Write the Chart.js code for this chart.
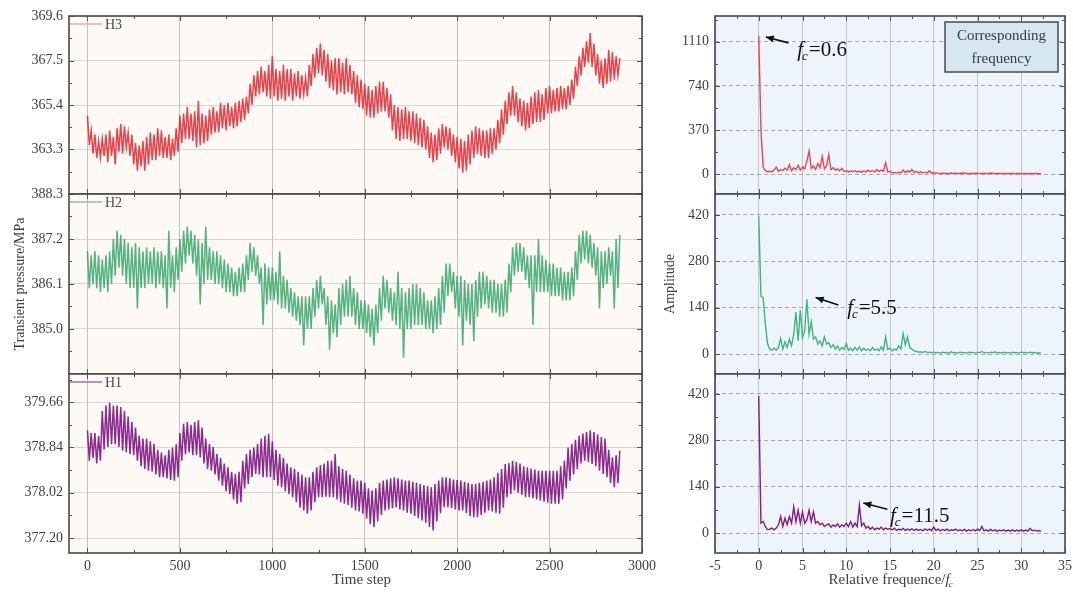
<!DOCTYPE html>
<html>
<head>
<meta charset="utf-8">
<script src="https://cdn.jsdelivr.net/npm/chart.js@4.4.1/dist/chart.umd.min.js"></script>
<style>
  html, body { margin: 0; padding: 0; background: #ffffff; }
  #wrap { position: relative; width: 1073px; height: 594px; overflow: hidden; }
  canvas { position: absolute; }
</style>
</head>
<body>
<div id="wrap">
  <canvas id="L1" width="660" height="200" style="left:0;top:0"></canvas>
  <canvas id="L2" width="660" height="196" style="left:0;top:184px"></canvas>
  <canvas id="L3" width="660" height="230" style="left:0;top:364px"></canvas>
  <canvas id="R1" width="423" height="200" style="left:650px;top:0"></canvas>
  <canvas id="R2" width="423" height="196" style="left:650px;top:184px"></canvas>
  <canvas id="R3" width="423" height="230" style="left:650px;top:364px"></canvas>
</div>
<script>
const SERIF = '"Liberation Serif", "Times New Roman", serif';
const INK = '#3f3f3f';

// ---- time histories (every 10 time steps) ----
const timeStep = Array.from({ length: 289 }, (_, i) => i * 10);

const pressureH3 = [
  364.9,363.5,364.2,363.1,364.0,362.9,363.7,362.9,363.8,363.0,364.0,362.7,364.2,363.0,363.9,362.6,364.3,363.2,364.5,363.1,
  364.4,363.4,364.1,363.0,364.0,362.6,363.6,362.3,363.5,362.5,363.7,362.3,363.9,362.6,364.1,362.8,364.0,362.8,364.3,363.0,
  364.2,362.9,363.9,362.9,364.0,362.8,363.8,363.0,364.3,363.2,364.9,363.6,365.0,363.8,365.3,363.8,365.0,363.7,365.1,363.4,
  365.6,363.5,365.0,363.6,364.9,363.7,365.2,364.0,365.3,364.1,365.1,364.1,365.5,364.3,365.4,364.2,365.5,364.4,365.3,364.3,
  365.5,364.4,365.6,364.6,365.7,364.7,365.8,365.0,366.4,365.4,366.8,365.8,367.0,365.9,367.2,366.0,367.0,365.8,367.3,365.7,
  367.7,365.8,367.1,365.6,367.0,365.7,367.3,365.6,367.1,365.8,367.1,365.6,366.9,365.8,367.0,365.7,366.8,365.9,366.7,365.8,
  367.3,366.3,367.8,366.7,368.1,366.9,368.3,366.8,368.0,366.5,367.8,366.2,367.5,366.1,367.6,365.9,367.6,366.0,367.4,365.9,
  367.6,366.0,367.3,365.9,367.0,365.5,366.8,365.3,366.6,365.2,366.4,364.9,366.3,364.8,366.1,364.8,366.3,365.0,366.5,365.1,
  366.5,365.1,366.2,364.8,365.9,364.2,365.4,363.8,365.3,363.7,365.2,363.8,365.3,363.8,365.1,363.7,365.1,363.6,365.0,363.5,
  364.8,363.4,364.7,363.3,364.4,362.9,364.1,362.7,364.0,362.8,364.3,363.1,364.5,363.4,364.4,363.3,364.3,363.0,364.0,362.7,
  363.9,362.4,363.8,362.2,363.7,362.3,364.0,362.6,364.2,362.9,364.4,363.1,364.3,363.0,364.2,362.9,364.2,362.9,364.3,363.1,
  364.3,363.3,364.7,363.6,365.2,364.0,365.6,364.5,366.0,364.9,366.3,364.9,366.0,364.6,365.7,364.4,365.6,364.2,365.5,364.3,
  365.8,364.5,366.0,364.6,366.1,364.6,365.9,364.7,366.2,365.0,366.3,365.0,366.1,365.1,366.2,365.1,366.3,365.2,366.2,365.2,
  366.3,365.4,366.6,365.7,367.2,366.3,367.7,366.8,368.1,367.2,368.4,367.4,368.8,367.2,368.3,366.8,367.8,366.4,367.5,366.2,
  367.6,366.4,368.0,366.5,367.9,366.6,367.7,366.8,367.6
];

const pressureH2 = [
  386.9,386.0,386.8,386.1,386.9,386.0,386.8,385.9,386.7,386.0,386.8,385.9,386.9,386.1,387.2,386.3,387.4,386.5,387.3,386.3,
  387.2,386.1,387.1,386.0,387.0,386.0,387.1,385.5,387.0,386.0,386.9,386.0,387.0,386.1,386.9,386.1,387.0,386.0,386.9,386.1,
  386.9,386.0,386.8,385.5,387.4,386.0,386.8,385.9,387.0,386.2,387.2,386.4,387.4,386.6,387.5,386.8,387.4,386.6,387.3,386.3,
  387.2,385.6,387.1,386.1,387.5,386.2,387.0,386.2,386.9,386.1,386.9,386.1,386.8,386.0,386.7,385.9,386.6,385.9,386.5,385.8,
  386.4,385.8,386.5,385.9,386.6,385.9,386.8,386.2,387.1,386.4,387.0,386.3,386.8,386.1,386.5,385.1,386.6,385.6,386.5,385.7,
  386.5,385.7,386.4,385.6,386.9,385.5,386.3,385.5,386.2,385.4,386.0,385.3,385.9,385.2,385.8,385.1,385.8,384.6,385.8,385.0,
  385.8,385.0,386.0,385.3,386.2,385.5,386.3,385.6,386.0,385.1,385.8,384.5,385.7,384.9,385.6,384.8,386.0,385.1,386.1,385.3,
  386.2,385.3,386.3,385.3,386.0,385.1,385.9,385.0,385.7,385.0,385.7,384.9,385.6,384.8,385.5,384.6,385.6,384.9,386.0,385.2,
  386.3,385.5,386.2,385.4,386.0,385.2,385.9,385.1,386.4,385.0,386.0,384.3,385.9,385.0,386.0,385.0,386.1,385.1,386.1,385.1,
  386.0,385.1,385.9,385.0,385.7,385.0,385.7,384.9,385.8,385.0,386.0,385.1,386.3,385.4,386.6,385.8,386.6,385.9,386.4,385.5,
  386.3,385.3,386.3,384.6,386.2,385.2,386.1,385.1,386.1,384.7,386.2,385.3,386.4,385.5,386.4,385.6,386.3,385.5,386.2,385.4,
  386.2,385.4,386.1,385.3,386.1,385.3,386.2,385.4,386.6,385.9,387.0,386.3,387.1,386.4,387.1,386.4,387.0,386.2,386.8,386.0,
  386.8,385.1,386.8,385.9,387.2,385.9,386.8,385.9,386.7,385.9,386.6,385.8,386.6,385.8,386.5,385.8,386.5,385.7,386.4,385.7,
  386.4,385.7,386.5,385.8,386.9,386.2,387.3,386.6,387.4,386.7,387.4,386.6,387.3,386.5,387.1,386.3,387.0,385.5,386.9,386.0,
  386.9,386.1,387.0,386.3,386.9,385.5,387.2,386.0,387.3
];

const pressureH1 = [
  379.15,378.6,379.1,378.65,379.1,378.55,379.05,378.6,379.5,378.8,379.6,378.85,379.65,378.9,379.6,378.9,379.6,378.85,379.57,378.78,
  379.5,378.75,379.4,378.72,379.3,378.7,379.2,378.6,379.05,378.5,379.0,378.45,379.0,378.42,378.95,378.4,378.9,378.35,378.8,378.3,
  378.75,378.3,378.7,378.28,378.8,378.25,378.84,378.24,378.9,378.3,379.1,378.6,379.27,378.72,379.3,378.75,379.25,378.7,379.3,378.7,
  379.33,378.66,379.2,378.55,379.0,378.45,378.9,378.42,378.85,378.35,378.72,378.24,378.65,378.15,378.55,378.05,378.48,378.0,378.4,377.9,
  378.36,377.82,378.4,377.85,378.6,378.1,378.72,378.18,378.8,378.3,378.84,378.36,378.9,378.35,379.0,378.3,379.05,378.3,379.09,378.3,
  378.95,378.25,378.8,378.15,378.72,378.12,378.65,378.05,378.55,378.0,378.48,377.94,378.45,377.85,378.4,377.75,378.35,377.7,378.3,377.64,
  378.3,377.7,378.4,377.85,378.48,377.94,378.52,377.94,378.55,377.95,378.6,377.94,378.6,377.94,378.72,377.9,378.5,377.85,378.45,377.82,
  378.42,377.8,378.35,377.75,378.28,377.7,378.24,377.68,378.24,377.64,378.2,377.55,378.1,377.45,378.06,377.4,378.1,377.5,378.2,377.62,
  378.24,377.7,378.26,377.72,378.28,377.74,378.3,377.76,378.28,377.72,378.26,377.7,378.24,377.66,378.24,377.64,378.22,377.6,378.2,377.56,
  378.18,377.52,378.16,377.48,378.14,377.4,378.12,377.34,378.18,377.5,378.24,377.65,378.3,377.76,378.3,377.76,378.28,377.74,378.26,377.72,
  378.25,377.7,378.24,377.7,378.22,377.65,378.2,377.6,378.18,377.58,378.18,377.58,378.2,377.62,378.22,377.66,378.24,377.7,378.26,377.68,
  378.3,377.66,378.38,377.64,378.45,377.75,378.54,377.94,378.56,378.0,378.6,378.06,378.58,378.02,378.55,377.98,378.5,377.94,378.48,377.94,
  378.46,377.92,378.44,377.9,378.42,377.88,378.42,377.86,378.42,377.84,378.42,377.82,378.42,377.82,378.42,377.82,378.5,377.9,378.6,378.1,
  378.84,378.24,378.9,378.35,378.98,378.45,379.05,378.55,379.09,378.6,379.12,378.58,379.15,378.54,379.12,378.5,379.08,378.42,379.03,378.36,
  379.0,378.3,378.8,378.2,378.66,378.12,378.7,378.2,378.78
];

// ---- amplitude spectra (relative frequency step 0.25) ----
const relFreq = Array.from({ length: 130 }, (_, i) => i * 0.25);

const ampH3 = [
  1160,380,60,30,22,25,20,35,60,25,40,30,50,35,80,30,55,40,75,35,
  60,45,110,195,50,70,40,90,55,150,45,70,165,40,55,35,45,30,50,25,
  30,20,28,22,30,20,25,18,28,20,35,22,30,20,40,22,35,25,95,20,
  25,12,15,10,18,12,35,15,30,18,40,15,25,12,20,10,18,12,30,10,
  15,8,12,6,10,7,9,6,11,8,10,6,9,7,12,6,8,5,9,7,
  10,6,8,5,9,6,11,7,8,5,9,6,8,5,7,6,9,5,8,5,
  7,6,8,5,7,4,8,5,6,4
];

const ampH2 = [
  417,175,170,92,32,15,12,18,12,20,47,15,37,20,45,25,60,127,40,132,
  50,70,165,60,97,45,52,30,40,25,52,30,35,20,28,15,25,12,20,14,
  32,12,18,10,20,12,22,10,18,12,15,10,20,12,15,10,22,12,52,14,
  18,10,15,12,25,15,62,28,52,20,15,10,8,6,7,5,8,5,6,4,
  6,4,5,3,6,4,5,3,7,4,5,3,6,4,5,3,6,4,5,3,
  6,4,8,4,5,3,6,4,7,4,5,3,6,4,5,3,6,4,5,3,
  6,4,5,3,6,4,5,3,4,3
];

const ampH1 = [
  414,30,35,20,10,12,15,10,15,25,50,20,45,25,50,30,79,35,69,30,
  64,30,40,69,35,64,30,35,25,30,20,25,28,18,25,20,28,18,25,20,
  30,20,35,18,30,20,84,22,30,15,20,12,18,10,15,12,18,10,15,12,
  14,10,15,8,12,9,14,8,12,9,13,8,12,8,11,7,13,8,12,8,
  18,8,12,7,11,8,12,7,10,8,12,7,10,7,11,6,10,7,11,7,
  12,8,20,7,10,6,11,7,10,6,9,7,10,6,9,6,10,6,9,6,
  10,6,9,6,14,7,9,6,8,6
];

// ---- tick labels ----
const timeTicks = [0, 500, 1000, 1500, 2000, 2500, 3000];
const freqTicks = [-5, 0, 5, 10, 15, 20, 25, 30, 35];
const ticksH3 = ['363.3', '365.4', '367.5', '369.6'];
const ticksH2 = ['385.0', '386.1', '387.2', '388.3'];
const ticksH1 = ['377.20', '378.02', '378.84', '379.66'];
const ampTicksH3 = ['0', '370', '740', '1110'];
const ampTicksH2 = ['0', '140', '280', '420'];
const ampTicksH1 = ['0', '140', '280', '420'];

// minor tick positions halfway between major ones, inside the axis range
function minorOf(major, scale) {
  const step = major[1] - major[0];
  const out = [];
  for (let v = major[0] - step / 2; v <= scale.max; v += step) {
    if (v >= scale.min) out.push(v);
  }
  return out;
}

function drawFc(ctx, x, y, rest, size) {
  ctx.textAlign = 'left';
  ctx.textBaseline = 'alphabetic';
  ctx.font = `italic ${size}px ${SERIF}`;
  ctx.fillText('f', x, y);
  let w = ctx.measureText('f').width;
  ctx.font = `italic ${Math.round(size * 0.62)}px ${SERIF}`;
  ctx.fillText('c', x + w - 1, y + size * 0.2);
  w += ctx.measureText('c').width;
  if (rest) {
    ctx.font = `${size}px ${SERIF}`;
    ctx.fillText(rest, x + w, y);
  }
}

// panel background, frame, inward tick marks, legend, notes
const decor = {
  id: 'decor',
  beforeDraw(chart, _args, o) {
    const { ctx, chartArea: a } = chart;
    ctx.save();
    ctx.fillStyle = o.bg;
    ctx.fillRect(a.left, a.top, a.right - a.left, a.bottom - a.top);
    ctx.restore();
  },
  afterDraw(chart, _args, o) {
    const { ctx, chartArea: a } = chart;
    const xs = chart.scales.x, ys = chart.scales.y;
    ctx.save();
    ctx.strokeStyle = '#555';
    ctx.lineWidth = 1;
    const seg = (x1, y1, x2, y2) => { ctx.beginPath(); ctx.moveTo(x1, y1); ctx.lineTo(x2, y2); ctx.stroke(); };
    const marks = (vals, len, scale, vertical) => vals.forEach(v => {
      if (v < scale.min || v > scale.max) return;
      const p = Math.round(scale.getPixelForValue(v)) + 0.5;
      if (vertical) { seg(p, a.top, p, a.top + len); seg(p, a.bottom, p, a.bottom - len); }
      else { seg(a.left, p, a.left + len, p); seg(a.right, p, a.right - len, p); }
    });
    marks(o.xMajor, 5, xs, true);
    marks(minorOf(o.xMajor, xs), 3, xs, true);
    marks(o.yMajor, 5, ys, false);
    marks(minorOf(o.yMajor, ys), 3, ys, false);

    ctx.strokeStyle = '#4a4a4a';
    ctx.lineWidth = 1.6;
    ctx.strokeRect(a.left, a.top, a.right - a.left, a.bottom - a.top);

    if (o.legend) {
      const ds = chart.data.datasets[0];
      ctx.strokeStyle = o.legend;
      ctx.lineWidth = 1.5;
      seg(a.left + 1, a.top + 8, a.left + 33, a.top + 8);
      ctx.fillStyle = '#4a4a4a';
      ctx.font = `14px ${SERIF}`;
      ctx.textAlign = 'left';
      ctx.textBaseline = 'middle';
      ctx.fillText(ds.label, a.left + 36, a.top + 9);
    }

    if (o.box) {
      const bx = a.right - 7 - 113, by = a.top + 6;
      ctx.fillStyle = '#d6e7f1';
      ctx.fillRect(bx, by, 113, 50);
      ctx.strokeStyle = '#4a4a4a';
      ctx.lineWidth = 1.5;
      ctx.strokeRect(bx, by, 113, 50);
      ctx.fillStyle = '#3a3a3a';
      ctx.font = `15px ${SERIF}`;
      ctx.textAlign = 'center';
      ctx.textBaseline = 'middle';
      o.box.forEach((t, i) => ctx.fillText(t, bx + 56.5, by + 14 + i * 23));
    }

    if (o.note) {
      const n = o.note;
      const hx = xs.getPixelForValue(n.head[0]), hy = ys.getPixelForValue(n.head[1]);
      const tx = xs.getPixelForValue(n.tail[0]), ty = ys.getPixelForValue(n.tail[1]);
      ctx.strokeStyle = '#111';
      ctx.fillStyle = '#111';
      ctx.lineWidth = 1.6;
      seg(tx, ty, hx, hy);
      const ang = Math.atan2(hy - ty, hx - tx);
      ctx.beginPath();
      ctx.moveTo(hx, hy);
      ctx.lineTo(hx - 8 * Math.cos(ang) + 3.5 * Math.sin(ang), hy - 8 * Math.sin(ang) - 3.5 * Math.cos(ang));
      ctx.lineTo(hx - 8 * Math.cos(ang) - 3.5 * Math.sin(ang), hy - 8 * Math.sin(ang) + 3.5 * Math.cos(ang));
      ctx.closePath();
      ctx.fill();
      drawFc(ctx, xs.getPixelForValue(n.text[0]), ys.getPixelForValue(n.text[1]), '=' + n.value, 21);
    }

    if (o.xTitle) {
      const t = o.xTitle;
      ctx.fillStyle = INK;
      ctx.font = `15px ${SERIF}`;
      ctx.textBaseline = 'alphabetic';
      const main = ctx.measureText(t.text).width;
      const extra = t.fc ? 10 : 0;
      const x0 = (a.left + a.right) / 2 + t.dx - (main + extra) / 2;
      const yb = a.bottom + t.dy;
      ctx.textAlign = 'left';
      ctx.fillText(t.text, x0, yb);
      if (t.fc) drawFc(ctx, x0 + main, yb, '', 15);
    }
    ctx.restore();
  }
};

function panel(id, cfg) {
  const yVals = cfg.yLabels.map(Number);
  return new Chart(document.getElementById(id), {
    type: 'line',
    data: {
      datasets: [{
        label: cfg.label,
        data: cfg.xs.map((v, i) => ({ x: v, y: cfg.ys[i] })),
        borderColor: cfg.color,
        borderWidth: cfg.lw,
        pointRadius: 0,
        tension: 0,
        fill: false
      }]
    },
    options: {
      responsive: false,
      animation: false,
      devicePixelRatio: 1,
      events: [],
      layout: { padding: cfg.padding },
      plugins: {
        legend: { display: false },
        tooltip: { enabled: false },
        decor: {
          bg: cfg.bg,
          xMajor: cfg.xTicks,
          yMajor: yVals,
          legend: cfg.legend,
          box: cfg.box,
          note: cfg.note,
          xTitle: cfg.xTitle
        }
      },
      scales: {
        x: {
          type: 'linear',
          min: cfg.xMin,
          max: cfg.xMax,
          afterBuildTicks: s => { s.ticks = cfg.xTicks.map(v => ({ value: v })); },
          afterFit: s => { s.height = cfg.xHeight; s.paddingLeft = 0; s.paddingRight = 0; },
          ticks: {
            display: cfg.showX,
            padding: 5,
            color: INK,
            font: { family: SERIF, size: 14 },
            maxRotation: 0,
            callback: v => String(v)
          },
          grid: { color: cfg.vGrid, lineWidth: 1, drawTicks: false },
          border: { display: false }
        },
        y: {
          type: 'linear',
          min: cfg.yMin,
          max: cfg.yMax,
          afterBuildTicks: s => { s.ticks = yVals.map(v => ({ value: v })); },
          afterFit: s => { s.width = cfg.yWidth; s.paddingTop = 0; s.paddingBottom = 0; },
          ticks: {
            padding: 6,
            color: INK,
            font: { family: SERIF, size: 14 },
            callback: v => cfg.yLabels[yVals.indexOf(v)]
          },
          title: cfg.yTitle ? {
            display: true,
            text: cfg.yTitle,
            color: INK,
            font: { family: SERIF, size: 14 },
            padding: { top: 12, bottom: 0 }
          } : { display: false },
          grid: { color: cfg.hGrid, lineWidth: 1, drawTicks: false },
          border: { display: false, dash: cfg.hDash || [] }
        }
      }
    },
    plugins: [decor]
  });
}

const leftBase = {
  xs: timeStep, xMin: -100, xMax: 3000, xTicks: timeTicks, yWidth: 69,
  bg: '#fdf9f4', vGrid: 'rgba(150,150,150,0.55)', hGrid: 'rgba(180,180,180,0.5)', lw: 1.5
};
const rightBase = {
  xs: relFreq, xMin: -5, xMax: 35, xTicks: freqTicks, yWidth: 65,
  bg: '#eef5fa', vGrid: 'rgba(160,160,160,0.55)', hGrid: 'rgba(140,140,140,0.7)', hDash: [4, 3], lw: 1.4
};

panel('L1', Object.assign({}, leftBase, {
  label: 'H3', ys: pressureH3, color: 'rgba(232,34,42,0.85)', legend: '#f0a4a4',
  yMin: 361.2, yMax: 369.6, yLabels: ticksH3,
  padding: { top: 16, right: 18, left: 0, bottom: 0 }, xHeight: 6, showX: false
}));
panel('L2', Object.assign({}, leftBase, {
  label: 'H2', ys: pressureH2, color: 'rgba(46,164,104,0.82)', legend: '#9ab8a6',
  yMin: 383.9, yMax: 388.3, yLabels: ticksH2, yTitle: 'Transient pressure/MPa',
  padding: { top: 10, right: 18, left: 0, bottom: 0 }, xHeight: 6, showX: false
}));
panel('L3', Object.assign({}, leftBase, {
  label: 'H1', ys: pressureH1, color: 'rgba(122,14,126,0.88)', legend: '#a070a0',
  yMin: 376.93, yMax: 380.17, yLabels: ticksH1,
  padding: { top: 10, right: 18, left: 0, bottom: 0 }, xHeight: 41, showX: true,
  xTitle: { text: 'Time step', dx: 6, dy: 31 }
}));

panel('R1', Object.assign({}, rightBase, {
  label: 'H3', ys: ampH3, color: '#ee4454',
  yMin: -165, yMax: 1325, yLabels: ampTicksH3,
  padding: { top: 16, right: 8, left: 0, bottom: 0 }, xHeight: 6, showX: false,
  box: ['Corresponding', 'frequency'],
  note: { head: [0.8, 1150], tail: [3.4, 1100], text: [4.4, 990], value: '0.6' }
}));
panel('R2', Object.assign({}, rightBase, {
  label: 'H2', ys: ampH2, color: '#3cb878',
  yMin: -60, yMax: 483, yLabels: ampTicksH2, yTitle: 'Amplitude',
  padding: { top: 10, right: 8, left: 0, bottom: 0 }, xHeight: 6, showX: false,
  note: { head: [6.5, 171], tail: [9.1, 148], text: [10.1, 121], value: '5.5' }
}));
panel('R3', Object.assign({}, rightBase, {
  label: 'H1', ys: ampH1, color: '#861a86',
  yMin: -60, yMax: 480, yLabels: ampTicksH1,
  padding: { top: 10, right: 8, left: 0, bottom: 0 }, xHeight: 41, showX: true,
  note: { head: [11.95, 91], tail: [14.7, 72], text: [15.0, 34], value: '11.5' },
  xTitle: { text: 'Relative frequence/', dx: 2, dy: 31, fc: true }
}));
</script>
</body>
</html>
